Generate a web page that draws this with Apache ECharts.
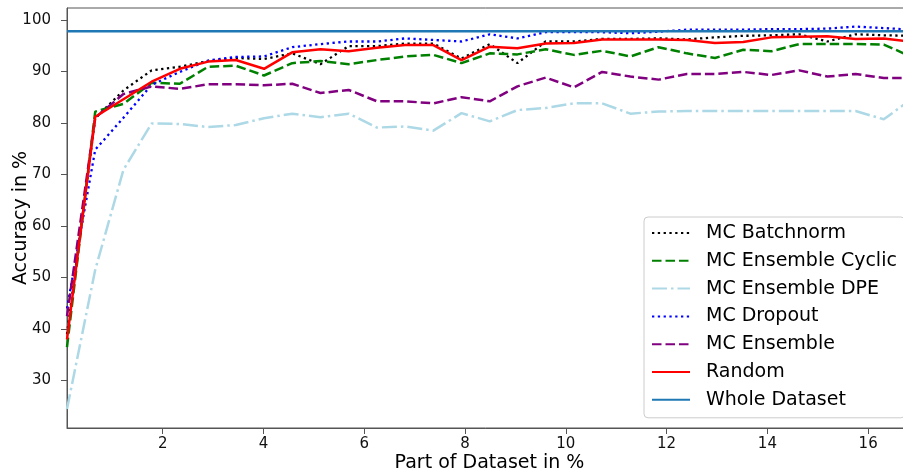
<!DOCTYPE html>
<html><head><meta charset="utf-8">
<script src="https://cdn.jsdelivr.net/npm/echarts@6/dist/echarts.min.js"></script>
<style>html,body{margin:0;padding:0;background:#fff}#c{width:903px;height:473px}</style>
</head><body><div id="c"></div>
<script>
// x positions: part of dataset in %
const partOfDataset = [0.10, 0.66, 1.22, 1.78, 2.34, 2.90, 3.45, 4.01, 4.57, 5.13, 5.69, 6.25, 6.81, 7.37, 7.93, 8.49, 9.04, 9.60, 10.16, 10.72, 11.28, 11.84, 12.40, 12.96, 13.52, 14.08, 14.63, 15.19, 15.75, 16.31, 16.87];
const mcBatchnorm = [39.0, 80.9, 86.3, 90.2, 90.9, 92.0, 92.6, 92.4, 93.5, 91.4, 94.9, 94.9, 95.4, 95.4, 92.5, 95.3, 91.6, 95.8, 95.8, 96.3, 96.3, 96.4, 96.2, 96.6, 96.9, 97.0, 97.2, 95.8, 97.2, 97.0, 96.9];
const mcEnsembleCyclic = [36.5, 82.2, 83.7, 87.8, 87.6, 90.9, 91.1, 89.2, 91.6, 92.0, 91.4, 92.2, 92.9, 93.2, 91.6, 93.5, 93.3, 94.3, 93.2, 94.0, 92.9, 94.7, 93.5, 92.6, 94.2, 93.9, 95.3, 95.3, 95.3, 95.2, 92.8];
const mcEnsembleDPE = [24.5, 51.5, 70.9, 79.9, 79.8, 79.2, 79.6, 80.9, 81.8, 81.1, 81.8, 79.1, 79.3, 78.5, 81.9, 80.3, 82.5, 82.9, 83.8, 83.8, 81.8, 82.2, 82.3, 82.3, 82.3, 82.3, 82.3, 82.3, 82.3, 80.7, 84.7];
const mcDropout = [44.0, 74.8, 81.0, 87.4, 89.9, 92.1, 92.8, 92.9, 94.7, 95.3, 95.8, 95.8, 96.4, 96.1, 95.8, 97.2, 96.4, 97.6, 97.6, 97.6, 97.4, 97.7, 98.1, 98.1, 98.1, 98.2, 98.2, 98.3, 98.7, 98.4, 98.1];
const mcEnsemble = [42.5, 81.0, 85.6, 87.1, 86.6, 87.5, 87.5, 87.3, 87.6, 85.8, 86.4, 84.2, 84.2, 83.8, 85.0, 84.2, 87.1, 88.8, 86.9, 89.9, 89.0, 88.4, 89.5, 89.5, 89.9, 89.3, 90.2, 89.0, 89.5, 88.7, 88.7];
const random = [38.0, 81.2, 84.6, 88.0, 90.5, 91.9, 92.2, 90.5, 93.7, 94.3, 93.9, 94.6, 95.1, 95.1, 92.2, 94.8, 94.5, 95.4, 95.5, 96.2, 96.2, 96.2, 96.1, 95.5, 95.7, 96.6, 96.7, 96.8, 96.3, 96.4, 95.7];
const wholeDataset = 97.8;
const xTicks = [2, 4, 6, 8, 10, 12, 14, 16];
const yTicks = [30, 40, 50, 60, 70, 80, 90, 100];

const FONT = 'DejaVu Sans';
const pairs = arr => partOfDataset.map((x, i) => [x, arr[i]]);
const mk = (name, arr, color, width, type, z) => ({
  name, type: 'line', data: pairs(arr), showSymbol: false, symbol: 'none',
  lineStyle: { color, width, type, cap: 'butt' }, itemStyle: { color },
  z, animation: false
});

const chart = echarts.init(document.getElementById('c'), null, { renderer: 'canvas' });
chart.setOption({
  animation: false,
  backgroundColor: '#fff',
  grid: { left: 67, right: -9, top: 8, bottom: 45, outerBoundsMode: 'none', containLabel: false, show: true, borderColor: '#555', borderWidth: 1, backgroundColor: 'transparent' },
  xAxis: {
    type: 'value', min: 0.1, max: 16.87,
    name: 'Part of Dataset in %', nameLocation: 'middle', nameGap: 26, nameMoveOverlap: false,
    nameTextStyle: { fontFamily: FONT, fontSize: 19, color: '#000' },
    axisLine: { show: true, lineStyle: { color: '#555', width: 1 } },
    axisTick: { show: true, length: 6, inside: false, customValues: xTicks, lineStyle: { color: '#555' } },
    axisLabel: { customValues: xTicks, fontFamily: FONT, fontSize: 15, color: '#111', margin: 9 },
    splitLine: { show: false }
  },
  yAxis: {
    type: 'value', min: 20.8, max: 102.3,
    name: 'Accuracy in %', nameLocation: 'middle', nameGap: 36, nameMoveOverlap: false,
    nameTextStyle: { fontFamily: FONT, fontSize: 19, color: '#000' },
    axisLine: { show: true, lineStyle: { color: '#555', width: 1 } },
    axisTick: { show: true, length: 6, inside: false, customValues: yTicks, lineStyle: { color: '#555' } },
    axisLabel: { customValues: yTicks, fontFamily: FONT, fontSize: 15, color: '#111', margin: 16 },
    splitLine: { show: false }
  },
  legend: {
    orient: 'vertical', left: 644, top: 217,
    itemWidth: 38, itemHeight: 14, itemGap: 7.8,
    padding: [6, 8, 8, 7],
    itemStyle: { opacity: 0 },
    backgroundColor: 'rgba(255,255,255,0.8)', borderColor: '#ccc', borderWidth: 1, borderRadius: 4,
    textStyle: { fontFamily: FONT, fontSize: 19, color: '#000', lineHeight: 20, padding: [0, 0, 0, 11] },
    data: ['MC Batchnorm', 'MC Ensemble Cyclic', 'MC Ensemble DPE', 'MC Dropout', 'MC Ensemble', 'Random', 'Whole Dataset']
  },
  series: [
    mk('MC Batchnorm', mcBatchnorm, '#000000', 2.3, [2.3, 3.5], 2),
    mk('MC Ensemble Cyclic', mcEnsembleCyclic, '#008000', 2.5, [9.5, 4], 3),
    mk('MC Ensemble DPE', mcEnsembleDPE, '#add8e6', 2.5, [15, 4, 2.5, 4], 4),
    mk('MC Dropout', mcDropout, '#0000ff', 2.3, [2.3, 3.5], 5),
    mk('MC Ensemble', mcEnsemble, '#800080', 2.5, [9.5, 4], 6),
    mk('Random', random, '#ff0000', 2.5, 'solid', 7),
    {
      name: 'Whole Dataset', type: 'line', showSymbol: false, symbol: 'none',
      data: [[partOfDataset[0], wholeDataset], [partOfDataset[partOfDataset.length - 1], wholeDataset]],
      lineStyle: { color: '#1f77b4', width: 2.5 }, itemStyle: { color: '#1f77b4' }, z: 8
    }
  ]
});
</script></body></html>
